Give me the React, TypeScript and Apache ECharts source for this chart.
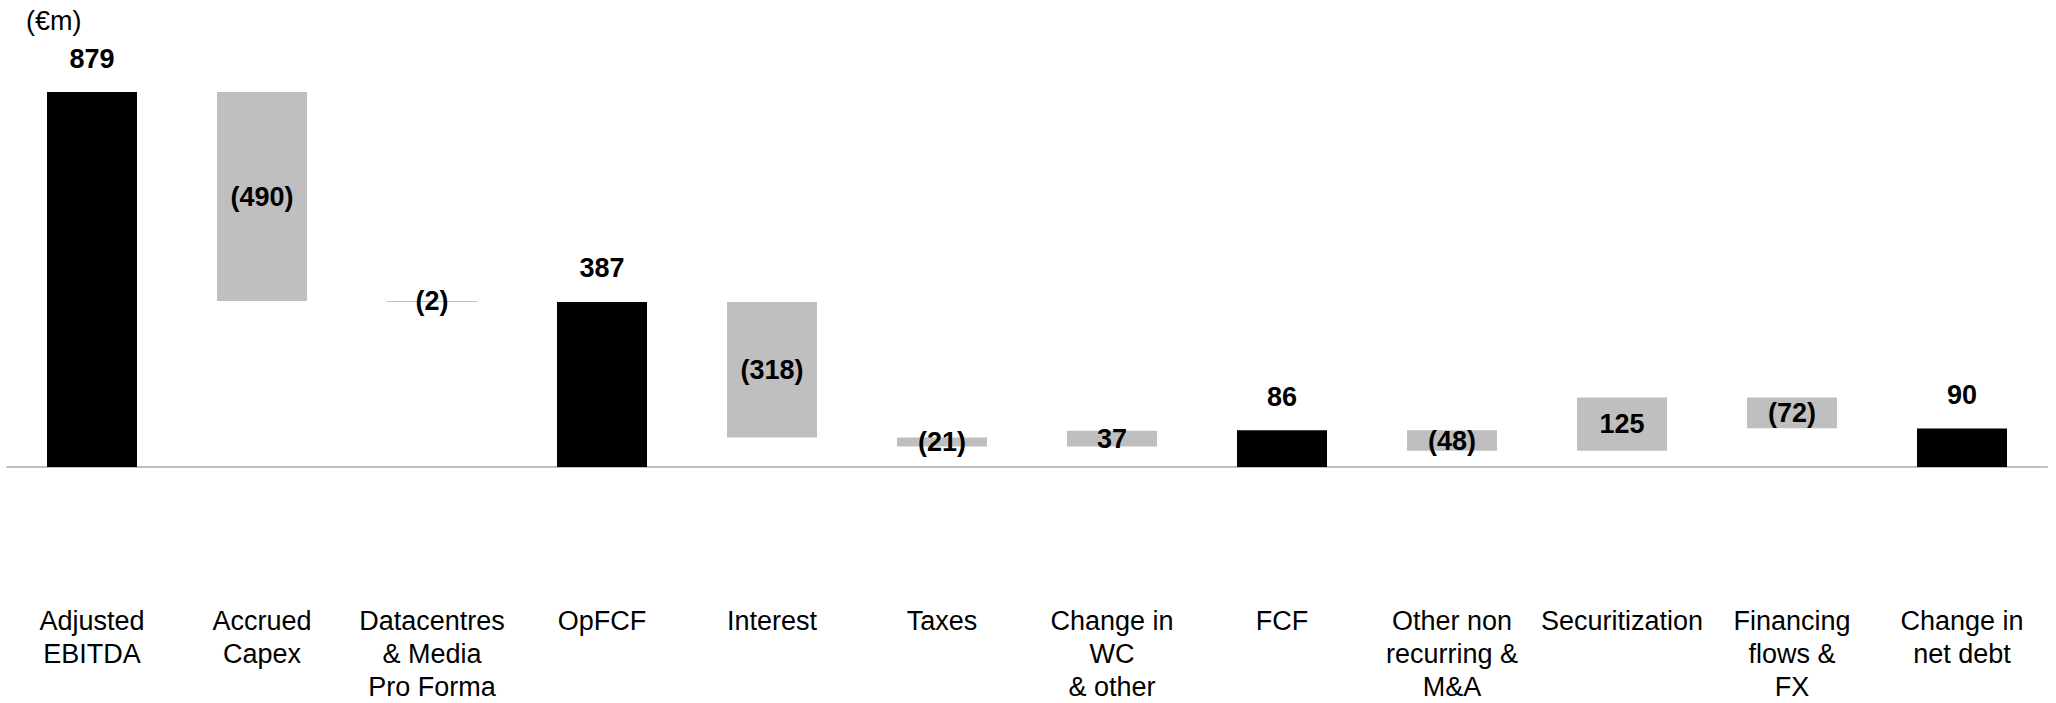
import React, { useEffect, useRef } from "react";
import * as echarts from "echarts";

const categories = [
  "Adjusted\nEBITDA",
  "Accrued\nCapex",
  "Datacentres\n& Media\nPro Forma",
  "OpFCF",
  "Interest",
  "Taxes",
  "Change in\nWC\n& other",
  "FCF",
  "Other non\nrecurring &\nM&A",
  "Securitization",
  "Financing\nflows &\nFX",
  "Change in\nnet debt",
];
const values = [879, -490, -2, 387, -318, -21, 37, 86, -48, 125, -72, 90];
const isTotal = [true, false, false, true, false, false, false, true, false, false, false, true];
const unitLabel = "(€m)";

export default function App() {
  const ref = useRef<HTMLDivElement>(null);
  useEffect(() => {
    if (!ref.current) return;
    const chart = echarts.init(ref.current, null, { renderer: "svg" });
    const base: number[] = [];
    const height: number[] = [];
    let run = 0;
    values.forEach((v, i) => {
      if (isTotal[i]) {
        base.push(0);
        height.push(v);
        run = v;
      } else if (v < 0) {
        base.push(run + v);
        height.push(-v);
        run = run + v;
      } else {
        base.push(run);
        height.push(v);
        run = run + v;
      }
    });
    const fmt = (v: number) => (v < 0 ? `(${-v})` : `${v}`);
    chart.setOption({
      animation: false,
      textStyle: { fontFamily: "Liberation Sans, Arial, sans-serif" },
      graphic: [
        {
          type: "text",
          left: 26,
          top: 7,
          style: { text: unitLabel, fontSize: 27, fill: "#000", fontFamily: "Liberation Sans, Arial, sans-serif" },
        },
      ],
      grid: { left: 7, right: 9, top: 92, bottom: 234, containLabel: false },
      xAxis: {
        type: "category",
        data: categories,
        axisTick: { show: false },
        axisLine: { lineStyle: { color: "#BFBFBF", width: 2 } },
        axisLabel: {
          interval: 0,
          margin: 137,
          fontSize: 27,
          lineHeight: 33,
          color: "#000",
          fontFamily: "Liberation Sans, Arial, sans-serif",
        },
      },
      yAxis: { type: "value", min: 0, max: 879, show: false, splitLine: { show: false } },
      series: [
        {
          type: "bar",
          stack: "w",
          barWidth: 90,
          data: base,
          itemStyle: { color: "transparent" },
          silent: true,
        },
        {
          type: "bar",
          stack: "w",
          barWidth: 90,
          data: height.map((h, i) => ({
            value: h,
            itemStyle: { color: isTotal[i] ? "#000000" : "#BFBFBF" },
            label: {
              show: true,
              position: isTotal[i] ? "top" : "inside",
              distance: 20,
              formatter: fmt(values[i]),
              fontSize: 27,
              fontWeight: "bold",
              color: "#000",
              fontFamily: "Liberation Sans, Arial, sans-serif",
            },
          })),
        },
      ],
    });
    return () => chart.dispose();
  }, []);
  return (
    <div
      ref={ref}
      style={{ position: "fixed", left: 0, top: 0, width: 2056, height: 703, background: "#fff" }}
    />
  );
}
